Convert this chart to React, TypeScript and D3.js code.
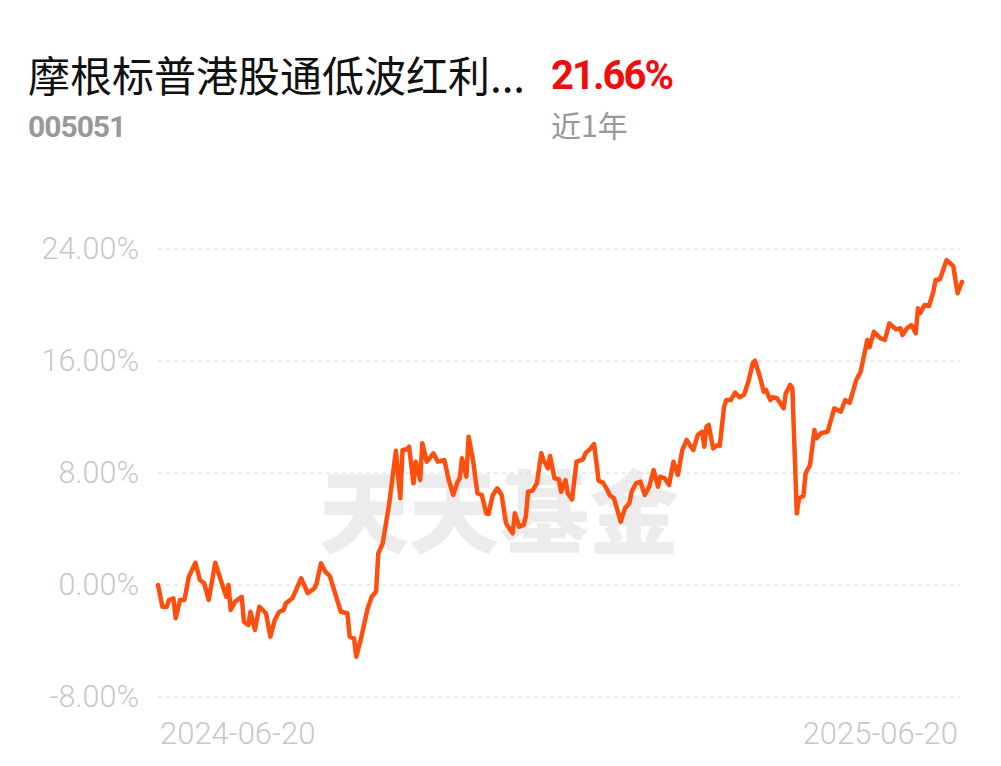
import React from "react";
import * as d3 from "d3";

// ---- data ----
const fundName = "摩根标普港股通低波红利...";
const fundCode = "005051";
const periodReturn = "21.66%";
const periodLabel = "近1年";
const watermark = "天天基金";
const startDate = "2024-06-20";
const endDate = "2025-06-20";
const yTicks = [-8, 0, 8, 16, 24];
const xTickLabels = ["2024-06-20", "2025-06-20"];

// days since start date
const days = [
  0, 2, 4, 5, 7, 8, 10, 12, 14, 17, 19, 21, 23, 26, 28, 31, 32, 33, 35, 38,
  39, 41, 42, 44, 46, 49, 51, 53, 55, 57, 58, 61, 65, 68, 71, 72, 74, 76, 78, 83,
  86, 87, 89, 90, 92, 95, 97, 99, 100, 102, 105, 108, 110, 111, 113, 114, 116, 117, 119, 120,
  122, 123, 125, 127, 130, 132, 134, 136, 137, 138, 140, 141, 143, 145, 147, 149, 150, 152, 154, 156,
  158, 159, 161, 162, 164, 166, 167, 168, 170, 172, 174, 175, 177, 178, 180, 182, 183, 185, 186, 188,
  190, 193, 194, 196, 198, 200, 202, 204, 205, 207, 209, 210, 212, 214, 215, 217, 219, 221, 223, 225,
  227, 228, 230, 232, 234, 236, 238, 240, 242, 243, 245, 247, 248, 249, 250, 252, 254, 255, 257, 258,
  260, 262, 264, 266, 268, 270, 271, 273, 275, 276, 278, 279, 281, 284, 285, 287, 288, 290, 291, 293,
  294, 296, 298, 299, 301, 304, 307, 310, 312, 314, 317, 319, 322, 323, 325, 328, 330, 332, 335, 337,
  338, 340, 342, 344, 345, 346, 348, 350, 352, 353, 355, 358, 361, 363, 365,
];
// cumulative return (%)
const returns = [
  0.0, -1.55, -1.55, -1.07, -0.95, -2.38, -1.07, -1.07, 0.59, 1.59, 0.36, 0.12, -1.07, 1.59, 0.59, -0.84, 0.0, -1.79, -1.19, -0.84,
  -2.62, -2.86, -1.91, -3.21, -1.55, -2.02, -3.69, -2.5, -1.91, -1.79, -1.31, -0.95, 0.48, -0.59, -0.24, 0.12, 1.55, 0.95, 0.64, -1.91,
  -2.02, -3.69, -3.81, -5.12, -3.93, -1.79, -0.84, -0.48, 2.26, 2.98, 5.84, 9.59, 6.19, 9.64, 9.69, 9.88, 7.26, 8.81, 7.5, 10.12,
  8.81, 8.98, 9.41, 8.81, 8.93, 7.5, 6.43, 7.38, 7.62, 9.05, 7.74, 10.59, 8.93, 6.55, 6.43, 5.12, 5.07, 6.43, 6.91, 6.43,
  4.41, 4.16, 3.69, 5.12, 4.16, 4.29, 4.88, 6.66, 6.74, 7.26, 9.41, 8.93, 8.34, 9.21, 7.62, 7.55, 6.66, 7.5, 6.55, 6.12,
  8.81, 8.98, 9.41, 9.69, 10.07, 7.45, 7.31, 6.79, 6.43, 6.19, 5.12, 4.52, 5.48, 5.84, 6.66, 7.26, 7.38, 6.43, 7.02, 8.21,
  7.02, 7.74, 7.62, 7.14, 8.81, 7.86, 9.64, 10.36, 9.88, 9.64, 10.71, 10.95, 9.88, 11.31, 11.43, 9.76, 10.0, 9.93, 12.74, 13.21,
  13.21, 13.74, 13.41, 13.57, 14.52, 15.84, 16.02, 15.0, 13.81, 13.93, 13.21, 13.41, 13.34, 12.62, 13.69, 14.29, 14.05, 5.12, 6.19, 6.36,
  7.98, 8.57, 11.07, 10.48, 10.84, 10.95, 12.62, 12.38, 13.21, 13.02, 14.64, 15.24, 17.5, 16.98, 18.09, 17.62, 17.5, 18.69, 18.26, 18.34,
  17.86, 18.34, 18.57, 17.98, 19.76, 19.41, 20.0, 19.93, 20.95, 21.79, 21.84, 23.21, 22.79, 20.84, 21.66,
];

const W = 1001;
const H = 766;

export default function App() {
  const parse = d3.timeParse("%Y-%m-%d");
  const d0 = parse(startDate) as Date;
  const d1 = parse(endDate) as Date;
  const x = d3.scaleTime().domain([d0, d1]).range([158, 962]);
  const y = d3.scaleLinear().domain([-8, 24]).range([697, 249]);

  const points = days.map((d, i) => ({ date: d3.timeDay.offset(d0, d), v: returns[i] }));
  const line = d3
    .line<{ date: Date; v: number }>()
    .x((p) => x(p.date))
    .y((p) => y(p.v));

  const fmt = (v: number) => v.toFixed(2) + "%";
  const axisFont = "Roboto, 'Noto Sans', sans-serif";
  const cjk = "'Noto Sans CJK SC', 'Noto Sans', sans-serif";

  return (
    <svg
      width={W}
      height={H}
      style={{ position: "absolute", left: 0, top: 0, background: "#fff" }}
    >
      <rect x={0} y={0} width={W} height={H} fill="#fff" />
      {/* header */}
      <text x={28} y={92} fontFamily={cjk} fontSize={42} fill="#111">
        {fundName}
      </text>
      <text
        x={551}
        y={89}
        fontFamily={axisFont}
        fontWeight={700}
        fontSize={40}
        letterSpacing={-2}
        fill="#f00d0d"
      >
        {periodReturn}
      </text>
      <text
        x={28}
        y={137}
        fontFamily={axisFont}
        fontWeight={700}
        fontSize={30}
        letterSpacing={-1}
        fill="#999"
      >
        {fundCode}
      </text>
      <text x={551} y={137} fontFamily={cjk} fontSize={30} fill="#999">
        {periodLabel}
      </text>

      {/* watermark */}
      <text
        x={(318 + 680) / 2}
        y={546}
        textAnchor="middle"
        fontFamily={cjk}
        fontWeight={900}
        fontSize={90}
        fill="#ececec"
      >
        {watermark}
      </text>

      {/* grid */}
      {yTicks.map((t) => (
        <g key={t}>
          <line
            x1={158}
            x2={960}
            y1={y(t)}
            y2={y(t)}
            stroke="#e3e3e3"
            strokeWidth={1.5}
            strokeDasharray="4 4"
          />
          <text
            x={139}
            y={y(t) + 10}
            textAnchor="end"
            fontFamily={axisFont}
            fontWeight={300}
            fontSize={30.5}
            fill="#c8c8c8"
          >
            {fmt(t)}
          </text>
        </g>
      ))}

      {/* x labels */}
      <text
        x={x(d0) + 2}
        y={744}
        textAnchor="start"
        fontFamily={axisFont}
        fontWeight={300}
        fontSize={31}
        fill="#c8c8c8"
      >
        {xTickLabels[0]}
      </text>
      <text
        x={x(d1) - 4}
        y={744}
        textAnchor="end"
        fontFamily={axisFont}
        fontWeight={300}
        fontSize={31}
        fill="#c8c8c8"
      >
        {xTickLabels[1]}
      </text>

      {/* line */}
      <path
        d={line(points) || ""}
        fill="none"
        stroke="#ff4f0f"
        strokeWidth={4.5}
        strokeLinejoin="round"
        strokeLinecap="round"
      />
    </svg>
  );
}
